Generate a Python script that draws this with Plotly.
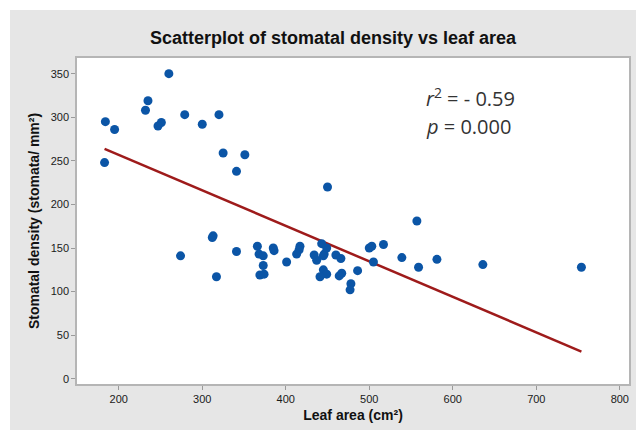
import plotly.graph_objects as go

# Leaf area (cm²)
leaf_area = [260, 235, 232, 184, 195, 251, 247, 279, 300, 320, 183, 325, 351, 341,
             450, 557, 517, 503, 500, 539, 581, 559, 505, 486, 478, 477,
             443, 449, 446, 445, 434, 437, 460, 466, 445, 449, 441, 467, 464,
             417, 416, 413, 385, 386, 401, 313, 312, 274, 341, 317,
             366, 368, 373, 373, 369, 374, 754, 636]
# Stomatal density (stomata/mm²)
stomatal_density = [350, 319, 308, 295, 286, 294, 290, 303, 292, 303, 248, 259, 257, 238,
                    220, 181, 154, 152, 150, 139, 137, 128, 134, 124, 109, 102,
                    155, 150, 143, 141, 142, 136, 142, 138, 125, 120, 117, 121, 118,
                    152, 148, 143, 150, 147, 134, 164, 162, 141, 146, 117,
                    152, 143, 141, 130, 119, 120, 128, 131]

# Fitted regression line
fit_intercept = 338.4
fit_slope = -0.4074

x_ticks = [200, 300, 400, 500, 600, 700, 800]
y_ticks = [0, 50, 100, 150, 200, 250, 300, 350]

fit_x = [min(leaf_area), max(leaf_area)]
fit_y = [fit_intercept + fit_slope * v for v in fit_x]

fig = go.Figure()
fig.add_trace(go.Scatter(x=fit_x, y=fit_y, mode="lines",
                         line=dict(color="#9e1b1b", width=2.5),
                         hoverinfo="skip", showlegend=False))
fig.add_trace(go.Scatter(x=leaf_area, y=stomatal_density, mode="markers",
                         marker=dict(color="#0b55a6", size=9),
                         showlegend=False))

# page body has an 8px margin: lay out in page pixels minus that offset
OFF = 8
W, H = 644 - OFF, 430 - OFF
PLOT_L, PLOT_R, PLOT_T, PLOT_B = 77 - OFF, 629 - OFF, 58 - OFF, 384 - OFF
pw, ph = PLOT_R - PLOT_L, PLOT_B - PLOT_T

def px_x(px):
    return (px - OFF - PLOT_L) / pw

def px_y(py):
    return (PLOT_B - (py - OFF)) / ph

tick_font = dict(family="Liberation Sans", size=11, color="#1a1a1a")
title_font = dict(family="Liberation Sans", size=14, color="#111111")

fig.update_layout(
    width=W, height=H,
    margin=dict(l=PLOT_L, r=W - PLOT_R, t=PLOT_T, b=H - PLOT_B, autoexpand=False),
    paper_bgcolor="#e6e6e6",
    plot_bgcolor="#ffffff",
    title=dict(text="<b>Scatterplot of stomatal density vs leaf area</b>",
               x=(333 - OFF) / W, xref="container", xanchor="center",
               y=1 - (38 - OFF) / H, yref="container", yanchor="middle",
               font=dict(family="Liberation Sans", size=18, color="#111111")),
    xaxis=dict(range=[150, 811], tickvals=x_ticks, ticks="outside", ticklen=4,
               tickcolor="#9a9a9a", tickfont=tick_font, showgrid=False, zeroline=False,
               showline=True, mirror=True, linecolor="#b5b5b5", linewidth=1.5,
               tickprefix="<b>", ticksuffix="</b>",
               title=dict(text="<b>Leaf area (cm²)</b>", font=title_font, standoff=6)),
    yaxis=dict(range=[-6, 368], tickvals=y_ticks, ticks="outside", ticklen=4,
               tickcolor="#9a9a9a", tickfont=tick_font, showgrid=False, zeroline=False,
               showline=True, mirror=True, linecolor="#b5b5b5", linewidth=1.5,
               tickprefix="<b>", ticksuffix="</b>",
               title=dict(text="<b>Stomatal density (stomata/ mm²)</b>", font=title_font, standoff=8)),
    shapes=[
        dict(type="rect", xref="paper", yref="paper", x0=px_x(0), x1=px_x(10),
             y0=px_y(440), y1=px_y(0), fillcolor="#ffffff", line=dict(width=0), layer="above"),
        dict(type="rect", xref="paper", yref="paper", x0=px_x(0), x1=px_x(650),
             y0=px_y(10), y1=px_y(0), fillcolor="#ffffff", line=dict(width=0), layer="above"),
    ],
    annotations=[
        dict(text="<i>r</i><sup>2</sup> = - 0.59", xref="paper", yref="paper",
             x=px_x(424), y=px_y(97), xanchor="left", yanchor="middle", showarrow=False,
             font=dict(family="Open Sans", size=20, color="#333333")),
        dict(text="<i>p</i> = 0.000", xref="paper", yref="paper",
             x=px_x(424), y=px_y(126), xanchor="left", yanchor="middle", showarrow=False,
             font=dict(family="Open Sans", size=20, color="#333333")),
    ],
)

fig.write_html("out.html")
